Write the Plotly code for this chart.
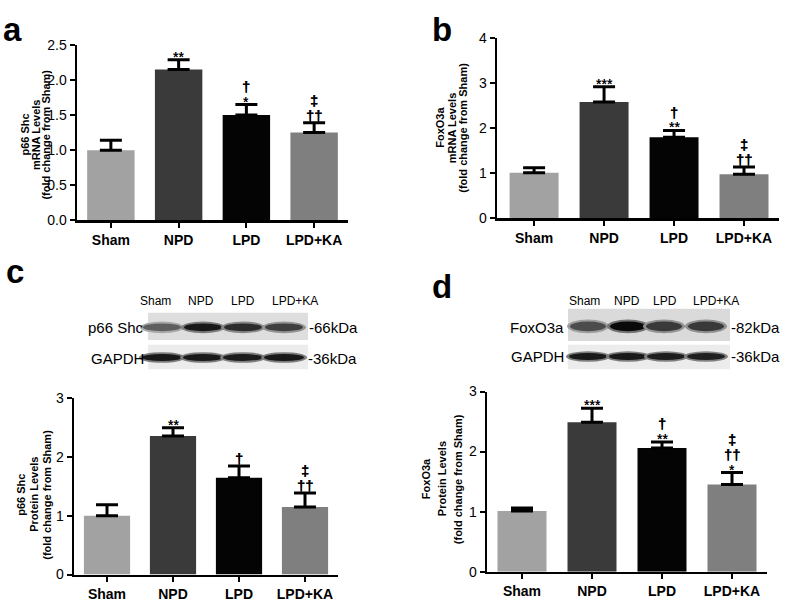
import plotly.graph_objects as go

W, H = 787, 604
FONT = "Arial, Liberation Sans, Helvetica, sans-serif"

categories = ["Sham", "NPD", "LPD", "LPD+KA"]
bar_colors = ["#a2a2a2", "#3a3a3a", "#040404", "#7f7f7f"]

# panel a: p66 Shc mRNA
a_values = [1.00, 2.15, 1.50, 1.25]
a_errors = [0.14, 0.14, 0.15, 0.14]
a_sig = [[], ["**"], ["*", "†"], ["††", "‡"]]
a_ticks = [0.0, 0.5, 1.0, 1.5, 2.0, 2.5]

# panel b: FoxO3a mRNA
b_values = [1.01, 2.58, 1.80, 0.98]
b_errors = [0.11, 0.34, 0.15, 0.16]
b_sig = [[], ["***"], ["**", "†"], ["††", "‡"]]
b_ticks = [0, 1, 2, 3, 4]

# panel c: p66 Shc protein
c_values = [1.00, 2.36, 1.65, 1.15]
c_errors = [0.19, 0.14, 0.20, 0.24]
c_sig = [[], ["**"], ["†"], ["††", "‡"]]
c_ticks = [0, 1, 2, 3]

# panel d: FoxO3a protein
d_values = [1.01, 2.49, 2.06, 1.45]
d_errors = [0.05, 0.23, 0.10, 0.20]
d_sig = [[], ["***"], ["**", "†"], ["*", "††", "‡"]]
d_ticks = [0, 1, 2, 3]

# western blot band intensities (0..1)
blot_lanes = ["Sham", "NPD", "LPD", "LPD+KA"]
c_p66_bands = [0.55, 0.92, 0.82, 0.72]
c_gapdh_bands = [0.92, 0.92, 0.90, 0.92]
d_fox_bands = [0.65, 1.00, 0.75, 0.75]
d_gapdh_bands = [0.92, 0.92, 0.90, 0.88]


def px(x):
    return x / W


def py(y):
    return 1 - y / H


fig = go.Figure()

panels = [
    dict(name="a", vals=a_values, errs=a_errors, sig=a_sig, ticks=a_ticks, fmt=".1f",
         x0=77, x1=348, y0=38, y1=218, yr=[0, 2.5],
         title=["p66 Shc", "mRNA Levels", "(fold change from Sham)"],
         tx=[25, 35.5, 46], ty=130, letter=(1, 1)),
    dict(name="b", vals=b_values, errs=b_errors, sig=b_sig, ticks=b_ticks, fmt="d",
         x0=497, x1=779, y0=31, y1=216, yr=[0, 4],
         title=["FoxO3a", "mRNA Levels", "(fold change from Sham)"],
         tx=[440, 451.5, 463], ty=123, letter=(430, 1), xr=[-0.53, 3.5]),
    dict(name="c", vals=c_values, errs=c_errors, sig=c_sig, ticks=c_ticks, fmt="d",
         x0=74, x1=338, y0=401, y1=582, yr=[0, 3],
         title=["p66 Shc", "Protein Levels", "(fold change from Sham)"],
         tx=[21, 34, 47], ty=500, letter=(4, 250)),
    dict(name="d", vals=d_values, errs=d_errors, sig=d_sig, ticks=d_ticks, fmt="d",
         x0=487, x1=767, y0=394, y1=579, yr=[0, 3],
         title=["FoxO3a", "Protein Levels", "(fold change from Sham)"],
         tx=[426, 442, 458], ty=484, letter=(430, 265)),
]

annotations = []
layout_axes = {}

for i, p in enumerate(panels):
    n = "" if i == 0 else str(i + 1)
    xa, ya = "x" + n, "y" + n
    fig.add_trace(go.Bar(
        x=categories, y=p["vals"], xaxis=xa, yaxis=ya,
        marker=dict(color=bar_colors, line=dict(width=0)),
        width=0.7,
        error_y=dict(type="data", symmetric=False, array=p["errs"],
                     arrayminus=[0] * len(p["errs"]), color="black",
                     thickness=3, width=11),
        showlegend=False, hoverinfo="skip",
    ))
    xr = p.get("xr", [-0.5, 3.5])
    layout_axes["xaxis" + n] = dict(
        domain=[px(p["x0"]), px(p["x1"])], anchor=ya, range=xr,
        type="category", showline=True, linecolor="black", linewidth=2.5,
        ticks="outside", ticklen=5, tickwidth=2, tickcolor="black",
        tickmode="array", tickvals=categories,
        ticktext=["<b>%s</b>" % c for c in categories],
        tickfont=dict(family=FONT, size=14, color="black"),
        showgrid=False, zeroline=False, fixedrange=True,
    )
    layout_axes["yaxis" + n] = dict(
        domain=[py(p["y1"]), py(p["y0"])], anchor=xa, range=p["yr"],
        showline=True, linecolor="black", linewidth=2.5,
        ticks="outside", ticklen=5, tickwidth=2, tickcolor="black",
        tickmode="array", tickvals=p["ticks"], tickformat=p["fmt"],
        tickfont=dict(family=FONT, size=14, color="black"),
        showgrid=False, zeroline=False, fixedrange=True,
    )
    # y title, one annotation per line (tight line spacing)
    for line, tx in zip(p["title"], p["tx"]):
        annotations.append(dict(
            x=px(tx), y=py(p["ty"]), xref="paper", yref="paper",
            text="<b>%s</b>" % line, textangle=-90, showarrow=False,
            xanchor="center", yanchor="middle",
            font=dict(family=FONT, size=11, color="black"),
        ))
    # panel letter
    lx, ly = p["letter"]
    annotations.append(dict(
        x=px(lx), y=py(ly), xref="paper", yref="paper",
        text="<b>%s</b>" % p["name"], showarrow=False,
        xanchor="left", yanchor="top",
        font=dict(family=FONT, size=33, color="black"),
    ))
    # significance marks
    for cat, v, e, marks in zip(categories, p["vals"], p["errs"], p["sig"]):
        cursor = 0.0
        for m in marks:
            if "*" in m:
                center = cursor + 7
                shift = center - 4
                cursor += 11
                size = 14
                txt = m
            else:
                center = cursor + 8
                shift = center - 1
                cursor += 15
                size = 15
                txt = "<b>%s</b>" % m
            annotations.append(dict(
                x=cat, y=v + e, xref=xa, yref=ya, text=txt, showarrow=False,
                xanchor="center", yanchor="middle", yshift=shift,
                font=dict(family=FONT, size=size, color="black",
                          shadow="0px 0px 0.4px black"),
            ))

# ---- western blots ----
shapes = []


def blot(x0, x1, y0, y1, fill):
    shapes.append(dict(type="rect", xref="paper", yref="paper",
                       x0=px(x0), x1=px(x1), y0=py(y1), y1=py(y0),
                       fillcolor=fill, line=dict(width=0), layer="below"))


def bands(centers, yc, half_w, half_h, intensities):
    for cx, it in zip(centers, intensities):
        g_out = int(235 - 120 * it)
        g_in = int(200 - 190 * it)
        shapes.append(dict(type="circle", xref="paper", yref="paper",
                           x0=px(cx - half_w - 3), x1=px(cx + half_w + 3),
                           y0=py(yc + half_h + 2), y1=py(yc - half_h - 2),
                           fillcolor="rgb(%d,%d,%d)" % (g_out, g_out, g_out),
                           line=dict(width=0)))
        shapes.append(dict(type="circle", xref="paper", yref="paper",
                           x0=px(cx - half_w), x1=px(cx + half_w),
                           y0=py(yc + half_h), y1=py(yc - half_h),
                           fillcolor="rgb(%d,%d,%d)" % (g_in, g_in, g_in),
                           line=dict(width=0)))


def label(x, y, text, size, anchor="left"):
    annotations.append(dict(x=px(x), y=py(y), xref="paper", yref="paper",
                            text=text, showarrow=False, xanchor=anchor,
                            yanchor="middle",
                            font=dict(family=FONT, size=size, color="black")))


# blot c
blot(148, 308, 313, 341, "#dedede")
blot(148, 308, 346, 371, "#ececec")
bands([162, 203, 243, 284], 328, 19, 4, c_p66_bands)
bands([162, 203, 243, 284], 359, 20, 3.5, c_gapdh_bands)
for cx, t in zip([155, 201, 243, 295], blot_lanes):
    label(cx, 301, t, 12, "center")
label(146, 328, "p66 Shc", 15, "right")
label(307, 328, "-66kDa", 15)
label(146, 360, "GAPDH", 15, "right")
label(306, 360, "-36kDa", 15)

# blot d
blot(568, 730, 309, 342, "#dadada")
blot(568, 730, 346, 371, "#ececec")
bands([588, 628, 664, 706], 327, 18, 5, d_fox_bands)
bands([588, 628, 666, 706], 358, 19, 3.5, d_gapdh_bands)
for cx, t in zip([584, 627, 665, 716], blot_lanes):
    label(cx, 301, t, 12, "center")
label(566, 328, "FoxO3a", 15, "right")
label(729, 328, "-82kDa", 15)
label(566, 358, "GAPDH", 15, "right")
label(729, 358, "-36kDa", 15)

fig.update_layout(
    width=W, height=H, margin=dict(l=0, r=0, t=0, b=0),
    paper_bgcolor="white", plot_bgcolor="white",
    font=dict(family=FONT, color="black"),
    annotations=annotations, shapes=shapes, bargap=0.3,
    **layout_axes,
)

fig.write_html("out.html",
               config={"displayModeBar": False, "staticPlot": True},
               post_script="document.body.style.margin='0';"
                           "document.body.style.overflow='hidden';")
